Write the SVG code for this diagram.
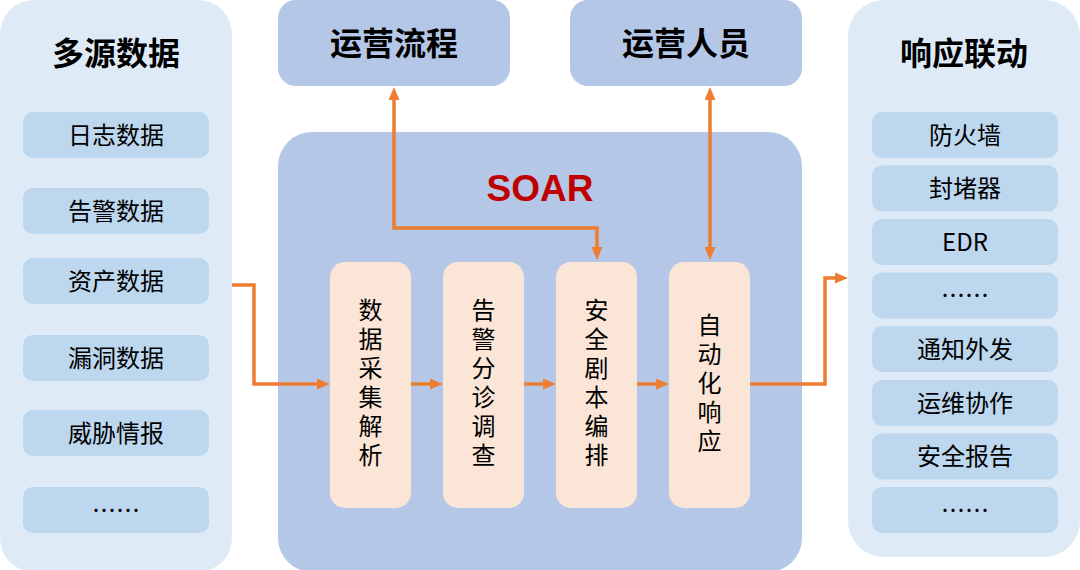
<svg xmlns="http://www.w3.org/2000/svg" width="1080" height="570" viewBox="0 0 1080 570">
<style>
.panel{fill:#deebf7}
.item{fill:#bdd7ee}
.blue{fill:#b4c7e7}
.inner{fill:#fbe5d6}
.t{font-family:"Noto Sans CJK SC","Liberation Sans",sans-serif;fill:#000;text-anchor:middle}
.title{font-size:32px;font-weight:bold}
.it{font-size:24px}
.vt{font-size:24px;writing-mode:vertical-rl;letter-spacing:5px}
.soar{font-family:"Liberation Sans",Arial,sans-serif;font-size:37px;font-weight:bold;fill:#c00000;text-anchor:middle}
.conn{fill:none;stroke:#ed7d31;stroke-width:3.5}
</style>
<defs>
<marker id="ah" markerUnits="userSpaceOnUse" markerWidth="13" markerHeight="11" refX="5" refY="5.5" orient="auto-start-reverse" viewBox="0 0 13 11">
<path d="M0,0 L13,5.5 L0,11 z" fill="#ed7d31"/>
</marker>
</defs>

<g id="sources">
<rect class="panel" x="0" y="0" width="232" height="572" rx="34"/>
<text class="t title" x="116" y="65">多源数据</text>
<rect class="item" x="23" y="112" width="186" height="46" rx="10"/>
<text class="t it" x="116" y="143.5">日志数据</text>
<rect class="item" x="23" y="188" width="186" height="46" rx="10"/>
<text class="t it" x="116" y="219.5">告警数据</text>
<rect class="item" x="23" y="258" width="186" height="46" rx="10"/>
<text class="t it" x="116" y="289.5">资产数据</text>
<rect class="item" x="23" y="335" width="186" height="46" rx="10"/>
<text class="t it" x="116" y="366.5">漏洞数据</text>
<rect class="item" x="23" y="410" width="186" height="46" rx="10"/>
<text class="t it" x="116" y="441.5">威胁情报</text>
<rect class="item" x="23" y="487" width="186" height="46" rx="10"/>
<text class="t it" x="116" y="518.5">……</text>
</g>

<g id="process">
<rect class="blue" x="278" y="0" width="232" height="86" rx="18"/>
<text class="t title" x="394" y="55">运营流程</text>
</g>

<g id="staff">
<rect class="blue" x="570" y="0" width="232" height="86" rx="18"/>
<text class="t title" x="686" y="55">运营人员</text>
</g>

<g id="soar">
<rect class="blue" x="278" y="132" width="524" height="440" rx="34"/>
<text class="soar" x="540" y="201">SOAR</text>
</g>

<g id="collect">
<rect class="inner" x="330" y="262" width="81" height="246" rx="15"/>
<text class="t vt" x="370.5" y="385">数据采集解析</text>
</g>

<g id="triage">
<rect class="inner" x="443" y="262" width="81" height="246" rx="15"/>
<text class="t vt" x="483.5" y="385">告警分诊调查</text>
</g>

<g id="playbook">
<rect class="inner" x="556" y="262" width="81" height="246" rx="15"/>
<text class="t vt" x="596.5" y="385">安全剧本编排</text>
</g>

<g id="auto">
<rect class="inner" x="669" y="262" width="81" height="246" rx="15"/>
<text class="t vt" x="709.5" y="385">自动化响应</text>
</g>

<g id="response">
<rect class="panel" x="848" y="0" width="232" height="557" rx="36"/>
<text class="t title" x="964" y="65">响应联动</text>
<rect class="item" x="872" y="112" width="186" height="46" rx="10"/>
<text class="t it" x="965" y="143.5">防火墙</text>
<rect class="item" x="872" y="165.5" width="186" height="46" rx="10"/>
<text class="t it" x="965" y="197">封堵器</text>
<rect class="item" x="872" y="219" width="186" height="46" rx="10"/>
<text class="t it" x="965" y="250.5">EDR</text>
<rect class="item" x="872" y="272.5" width="186" height="46" rx="10"/>
<text class="t it" x="965" y="304">……</text>
<rect class="item" x="872" y="326" width="186" height="46" rx="10"/>
<text class="t it" x="965" y="357.5">通知外发</text>
<rect class="item" x="872" y="380" width="186" height="46" rx="10"/>
<text class="t it" x="965" y="411.5">运维协作</text>
<rect class="item" x="872" y="433.5" width="186" height="46" rx="10"/>
<text class="t it" x="965" y="465">安全报告</text>
<rect class="item" x="872" y="487" width="186" height="46" rx="10"/>
<text class="t it" x="965" y="518.5">……</text>
</g>

<g id="connectors">
<path class="conn" d="M232,285 H254 V384 H322" marker-end="url(#ah)"/>
<path class="conn" d="M411,384 H435" marker-end="url(#ah)"/>
<path class="conn" d="M524,384 H548" marker-end="url(#ah)"/>
<path class="conn" d="M637,384 H661" marker-end="url(#ah)"/>
<path class="conn" d="M750,384 H825 V278 H840" marker-end="url(#ah)"/>
<path class="conn" d="M394,95 V228 H597 V252" marker-start="url(#ah)" marker-end="url(#ah)"/>
<path class="conn" d="M710,95 V252" marker-start="url(#ah)" marker-end="url(#ah)"/>
</g>
</svg>
